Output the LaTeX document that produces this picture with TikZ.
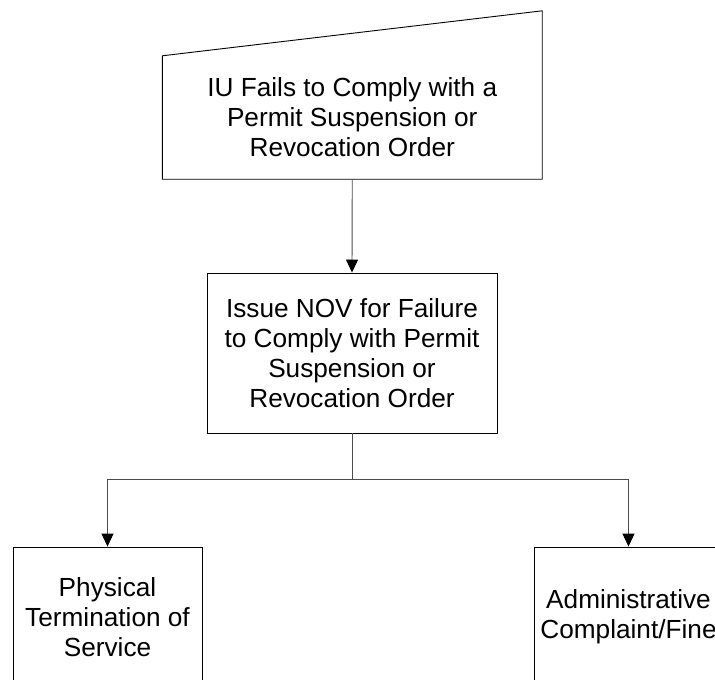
\documentclass[tikz,border=0pt]{standalone}
\usepackage{fontspec}
\setmainfont{Liberation Sans}
\usetikzlibrary{calc,arrows.meta}
\begin{document}
\begin{tikzpicture}[x=1pt,y=-1pt,
  every node/.style={font=\fontsize{26.2}{30.1}\selectfont, align=center, inner sep=0pt},
  procbox/.style={draw=black, line width=0.9pt, minimum width=290pt, minimum height=160pt},
  leafbox/.style={draw=black, line width=0.9pt, minimum width=189pt, minimum height=140pt},
  link/.style={draw=black!70, line width=0.9pt},
  arrowlink/.style={link, -{Triangle[length=13pt,width=12pt,color=black]}}]
  \clip (0,0) rectangle (715,680);
  \fill[white] (0,0) rectangle (715,680);

  % manual input shape with slanted top
  \node[minimum width=379.5pt, minimum height=123pt] (fail) at (352.25,117.5)
    {IU Fails to Comply with a\\Permit Suspension or\\Revocation Order};
  \draw[line width=0.9pt] (fail.south west) -- (fail.north west)
    -- ($(fail.north east)+(0,-45)$) -- (fail.south east) -- cycle;

  \node[procbox] (nov) at (352,353)
    {Issue NOV for Failure\\to Comply with Permit\\Suspension or\\Revocation Order};

  \node[leafbox] (term) at (107.5,617) {Physical\\Termination of\\Service};
  \node[leafbox] (admin) at (628.5,617) {Administrative\\Complaint/Fine};

  \coordinate (split) at (352,479);

  \draw[arrowlink] (fail.south) -- (nov.north);
  \draw[link] (nov.south) -- (split);
  \draw[arrowlink] (split) -| (term.north);
  \draw[arrowlink] (split) -| (admin.north);
\end{tikzpicture}
\end{document}
